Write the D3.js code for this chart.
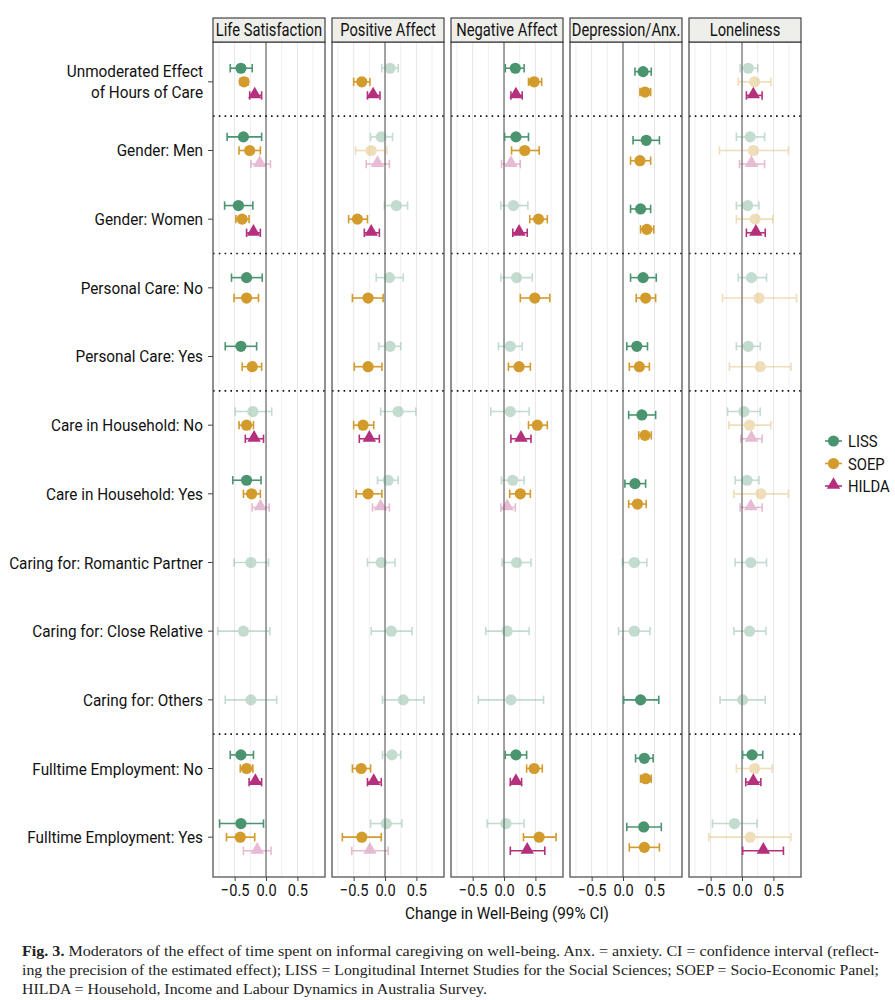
<!DOCTYPE html>
<html lang="en">
<head>
  <meta charset="UTF-8"/>
  <title>Fig. 3 Moderators</title>
  <script src="https://d3js.org/d3.v7.min.js"></script>
  <style>
    body { margin:0; background:#fff; }
    svg { display:block; }
    .lab { font-family:Roboto,"Liberation Sans",sans-serif; fill:#111; }
    .cap { font-family:"Liberation Serif","DejaVu Serif",serif; fill:#222; font-size:15px; }
  </style>
</head>
<body>
<svg width="895" height="1000"></svg>
<script>
  const outcomes = ['Life Satisfaction','Positive Affect','Negative Affect','Depression/Anx.','Loneliness'];
  const moderators = [
    'Unmoderated Effect\nof Hours of Care',
    'Gender: Men','Gender: Women',
    'Personal Care: No','Personal Care: Yes',
    'Care in Household: No','Care in Household: Yes',
    'Caring for: Romantic Partner','Caring for: Close Relative','Caring for: Others',
    'Fulltime Employment: No','Fulltime Employment: Yes'
  ];
  const samples = ['LISS','SOEP','HILDA'];
  const sampleColors = ['#4b9470','#d39a2c','#b5307c'];
  const separatorsAfter = [0,2,4,9];   // dotted lines below these rows
  const xTicks = [-0.5,0,0.5];

  // each row: [LISS, SOEP, HILDA], each as [estimate, lower, upper] or null
  const lifeSatisfaction = [
    [[-0.40,-0.57,-0.22],[-0.35,-0.41,-0.29],[-0.18,-0.26,-0.07]],
    [[-0.36,-0.62,-0.07],[-0.26,-0.43,-0.09],[-0.10,-0.24,0.07]],
    [[-0.44,-0.66,-0.21],[-0.38,-0.48,-0.27],[-0.20,-0.31,-0.09]],
    [[-0.31,-0.55,-0.06],[-0.31,-0.51,-0.12],null],
    [[-0.40,-0.65,-0.15],[-0.22,-0.38,-0.07],null],
    [[-0.21,-0.49,0.09],[-0.31,-0.43,-0.20],[-0.19,-0.33,-0.04]],
    [[-0.31,-0.53,-0.08],[-0.23,-0.36,-0.09],[-0.09,-0.22,0.05]],
    [[-0.24,-0.51,0.04],null,null],
    [[-0.36,-0.77,0.06],null,null],
    [[-0.24,-0.65,0.17],null,null],
    [[-0.40,-0.57,-0.20],[-0.31,-0.41,-0.21],[-0.17,-0.27,-0.07]],
    [[-0.40,-0.74,-0.04],[-0.41,-0.63,-0.18],[-0.14,-0.36,0.08]]
  ];
  const positiveAffect = [
    [[0.08,-0.05,0.21],[-0.37,-0.50,-0.24],[-0.19,-0.28,-0.08]],
    [[-0.06,-0.23,0.12],[-0.22,-0.47,0.03],[-0.12,-0.30,0.07]],
    [[0.18,-0.01,0.36],[-0.44,-0.58,-0.28],[-0.22,-0.33,-0.09]],
    [[0.07,-0.14,0.29],[-0.27,-0.52,-0.03],null],
    [[0.08,-0.10,0.25],[-0.27,-0.49,-0.05],null],
    [[0.21,-0.07,0.49],[-0.35,-0.50,-0.18],[-0.25,-0.41,-0.09]],
    [[0.05,-0.12,0.21],[-0.27,-0.46,-0.05],[-0.07,-0.20,0.07]],
    [[-0.06,-0.28,0.16],null,null],
    [[0.10,-0.22,0.43],null,null],
    [[0.29,-0.04,0.62],null,null],
    [[0.11,-0.04,0.25],[-0.38,-0.52,-0.23],[-0.18,-0.28,-0.06]],
    [[0.02,-0.23,0.27],[-0.37,-0.68,-0.06],[-0.24,-0.53,0.05]]
  ];
  const negativeAffect = [
    [[0.18,0.02,0.32],[0.48,0.39,0.60],[0.19,0.11,0.29]],
    [[0.19,0.01,0.39],[0.33,0.12,0.56],[0.11,-0.04,0.26]],
    [[0.15,-0.05,0.38],[0.55,0.41,0.69],[0.24,0.14,0.37]],
    [[0.20,-0.05,0.45],[0.49,0.26,0.73],null],
    [[0.10,-0.09,0.29],[0.24,0.07,0.42],null],
    [[0.10,-0.21,0.40],[0.53,0.39,0.69],[0.27,0.11,0.43]],
    [[0.14,-0.04,0.32],[0.26,0.09,0.42],[0.05,-0.05,0.18]],
    [[0.20,-0.03,0.43],null,null],
    [[0.05,-0.29,0.40],null,null],
    [[0.11,-0.41,0.63],null,null],
    [[0.19,0.02,0.36],[0.48,0.36,0.61],[0.19,0.10,0.28]],
    [[0.03,-0.27,0.32],[0.56,0.31,0.83],[0.37,0.10,0.65]]
  ];
  const depressionAnx = [
    [[0.32,0.19,0.45],[0.35,0.27,0.44],null],
    [[0.37,0.16,0.58],[0.27,0.12,0.44],null],
    [[0.28,0.12,0.44],[0.38,0.28,0.49],null],
    [[0.32,0.12,0.53],[0.36,0.21,0.52],null],
    [[0.22,0.06,0.39],[0.26,0.10,0.42],null],
    [[0.30,0.09,0.52],[0.35,0.25,0.45],null],
    [[0.19,0.03,0.36],[0.23,0.09,0.37],null],
    [[0.18,-0.01,0.38],null,null],
    [[0.18,-0.07,0.43],null,null],
    [[0.28,0.01,0.57],null,null],
    [[0.34,0.20,0.48],[0.36,0.28,0.45],null],
    [[0.33,0.06,0.61],[0.34,0.10,0.58],null]
  ];
  const loneliness = [
    [[0.10,-0.03,0.25],[0.20,-0.06,0.46],[0.18,0.07,0.32]],
    [[0.13,-0.09,0.36],[0.18,-0.36,0.74],[0.15,-0.04,0.36]],
    [[0.09,-0.09,0.27],[0.21,-0.09,0.49],[0.22,0.07,0.37]],
    [[0.15,-0.06,0.39],[0.27,-0.31,0.87],null],
    [[0.10,-0.09,0.29],[0.29,-0.20,0.78],null],
    [[0.03,-0.23,0.29],[0.12,-0.21,0.46],[0.15,-0.02,0.32]],
    [[0.08,-0.11,0.27],[0.30,-0.13,0.74],[0.14,-0.03,0.32]],
    [[0.14,-0.11,0.39],null,null],
    [[0.12,-0.13,0.38],null,null],
    [[0.01,-0.35,0.37],null,null],
    [[0.16,0.01,0.33],[0.20,-0.09,0.48],[0.18,0.06,0.30]],
    [[-0.12,-0.47,0.24],[0.13,-0.53,0.78],[0.34,0.01,0.66]]
  ];
  const estimates = [lifeSatisfaction, positiveAffect, negativeAffect, depressionAnx, loneliness];

  const svg = d3.select('svg');
  const yTop = 42, yBot = 877, headH = 24;

  const px = d3.scaleBand().domain(outcomes).range([213, 801]).paddingInner(0.0588).paddingOuter(0);
  const x = d3.scaleLinear().domain([-0.845, 0.94]).range([0, px.bandwidth()]);
  const y = d3.scalePoint().domain(d3.range(moderators.length)).range([yTop, yBot]).padding(0.58);
  const dodgeW = 40.8;
  const col = d3.scaleOrdinal().domain(samples).range(sampleColors);
  const tri = d3.symbol().type(d3.symbolTriangle).size(78);

  // squeeze text horizontally, a stand-in for the condensed face of the original
  function condense(sel, f) {
    sel.each(function() {
      const len = this.getComputedTextLength();
      d3.select(this).attr('textLength', len * f).attr('lengthAdjust', 'spacingAndGlyphs');
    });
  }

  // row labels + y ticks
  const yl = svg.append('g');
  moderators.forEach((m, i) => {
    const lines = m.split('\n');
    lines.forEach((l, k) => {
      yl.append('text').attr('class','lab')
        .attr('text-anchor','end').attr('font-size', 17)
        .attr('x', 203).attr('y', y(i) + 6 - (lines.length - 1) * 10.5 + k * 21)
        .text(l).call(condense, 0.9);
    });
    yl.append('line').attr('x1', 208).attr('x2', 213).attr('y1', y(i)).attr('y2', y(i))
      .attr('stroke', '#444').attr('stroke-width', 1);
  });

  outcomes.forEach((o, oi) => {
    const g = svg.append('g').attr('transform', `translate(${px(o)},0)`);
    const w = px.bandwidth();

    // grid
    [-0.75,-0.5,-0.25,0.25,0.5,0.75].forEach(v => {
      g.append('line').attr('x1', x(v)).attr('x2', x(v)).attr('y1', yTop).attr('y2', yBot)
        .attr('stroke', Number.isInteger(v * 2) ? '#e6e6e6' : '#efefef').attr('stroke-width', 1);
    });
    g.append('line').attr('x1', x(0)).attr('x2', x(0)).attr('y1', yTop).attr('y2', yBot)
      .attr('stroke', '#7a7a7a').attr('stroke-width', 1.4);

    // dotted separators
    separatorsAfter.forEach(r => {
      const yy = (y(r) + y(r + 1)) / 2;
      g.append('line').attr('x1', 0).attr('x2', w).attr('y1', yy).attr('y2', yy)
        .attr('stroke', '#111').attr('stroke-width', 1.6).attr('stroke-dasharray', '1.6,4.2');
    });

    // estimates
    estimates[oi].forEach((row, ri) => {
      const present = samples.map((s, si) => ({ s, si, v: row[si] })).filter(d => d.v);
      present.forEach((d, k) => {
        const [est, lo, hi] = d.v;
        const yy = y(ri) + ((k + 0.5) / present.length - 0.5) * dodgeW;
        const sig = lo > 0 || hi < 0;
        const c = col(d.s);
        const e = g.append('g').attr('opacity', sig ? 1 : 0.32);
        e.append('line').attr('x1', x(lo)).attr('x2', x(hi)).attr('y1', yy).attr('y2', yy)
          .attr('stroke', c).attr('stroke-width', 1.6);
        [lo, hi].forEach(v => e.append('line').attr('x1', x(v)).attr('x2', x(v))
          .attr('y1', yy - 4.2).attr('y2', yy + 4.2).attr('stroke', c).attr('stroke-width', 1.6));
        if (d.s === 'HILDA') {
          e.append('path').attr('d', tri).attr('transform', `translate(${x(est)},${yy - 1})`).attr('fill', c);
        } else {
          e.append('circle').attr('cx', x(est)).attr('cy', yy).attr('r', 5.6).attr('fill', c);
        }
      });
    });

    // panel border
    g.append('rect').attr('x', 0).attr('y', yTop).attr('width', w).attr('height', yBot - yTop)
      .attr('fill', 'none').attr('stroke', '#555').attr('stroke-width', 1.3);

    // strip
    g.append('rect').attr('x', 0).attr('y', yTop - headH).attr('width', w).attr('height', headH)
      .attr('fill', '#eeeeea').attr('stroke', '#333').attr('stroke-width', 1.1);
    g.append('text').attr('class','lab').attr('x', w / 2).attr('y', yTop - 6)
      .attr('text-anchor','middle').attr('font-size', 17.5).text(o).call(condense, 0.84);

    // x axis
    const ax = g.append('g').attr('transform', `translate(0,${yBot})`)
      .call(d3.axisBottom(x).tickValues(xTicks).tickSize(4).tickPadding(3)
        .tickFormat(v => d3.format('.1f')(v).replace('-', '\u2212')));
    ax.select('.domain').remove();
    ax.selectAll('line').attr('stroke', '#444');
    ax.selectAll('text').attr('class','lab').attr('font-size', 17).attr('fill', '#111')
      .call(condense, 0.86);
  });

  // axis title
  svg.append('text').attr('class','lab').attr('x', 507).attr('y', 919)
    .attr('text-anchor','middle').attr('font-size', 17).text('Change in Well-Being (99% CI)')
    .call(condense, 0.9);

  // legend
  const lg = svg.append('g').attr('transform', 'translate(825,441)');
  samples.forEach((s, i) => {
    const r = lg.append('g').attr('transform', `translate(0,${i * 22.5})`);
    r.append('line').attr('x1', 0).attr('x2', 17).attr('stroke', col(s)).attr('stroke-width', 1.6);
    if (s === 'HILDA') r.append('path').attr('d', tri).attr('transform', 'translate(8.5,-1)').attr('fill', col(s));
    else r.append('circle').attr('cx', 8.5).attr('r', 5.6).attr('fill', col(s));
    r.append('text').attr('class','lab').attr('x', 23).attr('y', 6).attr('font-size', 17).text(s)
      .call(condense, 0.87);
  });

  // caption (justified to the column width like the journal page)
  const cap = svg.append('g');
  const l1 = cap.append('text').attr('class','cap').attr('x', 22).attr('y', 956)
    .attr('textLength', 857).attr('lengthAdjust', 'spacingAndGlyphs');
  l1.append('tspan').attr('font-weight','bold').text('Fig. 3.');
  l1.append('tspan').text('  Moderators of the effect of time spent on informal caregiving on well-being. Anx. = anxiety. CI = confidence interval (reflect-');
  cap.append('text').attr('class','cap').attr('x', 22).attr('y', 975)
    .attr('textLength', 857).attr('lengthAdjust', 'spacingAndGlyphs')
    .text('ing the precision of the estimated effect); LISS = Longitudinal Internet Studies for the Social Sciences; SOEP = Socio-Economic Panel;');
  cap.append('text').attr('class','cap').attr('x', 22).attr('y', 994)
    .attr('textLength', 465).attr('lengthAdjust', 'spacingAndGlyphs')
    .text('HILDA = Household, Income and Labour Dynamics in Australia Survey.');
</script>
</body>
</html>
